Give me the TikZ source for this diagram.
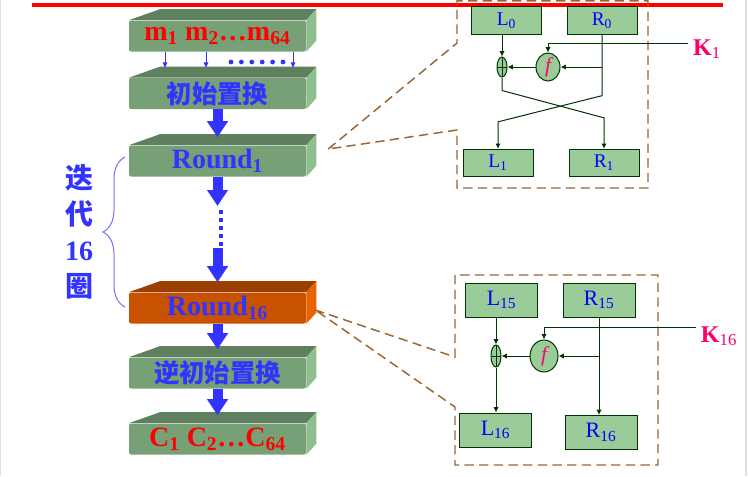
\documentclass[tikz,border=0pt]{standalone}
\usepackage{fontspec}
\setmainfont{Liberation Serif}
\newfontfamily\cjk{Noto Sans CJK SC}
\usepackage{tikz}
\usetikzlibrary{arrows.meta,decorations.pathreplacing,shapes.geometric}
\definecolor{slabfront}{HTML}{77A077}
\definecolor{slabtop}{HTML}{5E805E}
\definecolor{slabside}{HTML}{8FBF8F}
\definecolor{hotfront}{HTML}{C85200}
\definecolor{hottop}{HTML}{9B3F00}
\definecolor{hotside}{HTML}{E86200}
\definecolor{roundblue}{HTML}{3333FF}
\definecolor{boxgreen}{HTML}{99CC99}
\definecolor{wiregreen}{HTML}{003300}
\definecolor{callout}{HTML}{996633}
\definecolor{keypink}{HTML}{FF0066}
\newcommand{\slabsides}[3]{%
\fill[#2] (#1.north west) -- ++(31,-11) -- ([shift={(10,-11)}]#1.north east) -- (#1.north east) -- cycle;
\fill[#3] (#1.north east) -- ++(10,-11) -- ([shift={(10,-11)}]#1.south east) -- (#1.south east) -- cycle;}

\begin{document}
\begin{tikzpicture}[x=0.75pt,y=-0.75pt,
  slab/.style={fill=slabfront,minimum width=132.75pt,minimum height=23.25pt,inner sep=0pt,rounded corners=1.5pt},
  hot/.style={slab,fill=hotfront},
  redtext/.style={text=red,font=\bfseries\fontsize{21}{21}\selectfont},
  bluetext/.style={text=roundblue,font=\bfseries\fontsize{21}{21}\selectfont},
  cjktext/.style={text=roundblue,font=\cjk\bfseries\fontsize{19}{19}\selectfont},
  bigarrow/.style={roundblue,line width=7.5pt,-{Triangle[width=15pt,length=12pt]}},
  thinarrow/.style={roundblue,line width=0.75pt,-{Triangle[width=3.5pt,length=4pt]}},
  half/.style={fill=boxgreen,draw=wiregreen,line width=0.75pt,minimum width=52.5pt,minimum height=20.5pt,inner sep=0pt,text=blue,font=\fontsize{14.5}{15}\selectfont},
  half2/.style={half,minimum width=54pt,minimum height=25.5pt,font=\fontsize{16.5}{17}\selectfont},
  xorop/.style={ellipse,fill=boxgreen,draw=wiregreen,line width=0.75pt,minimum width=7.5pt,minimum height=15pt,inner sep=0pt,
    path picture={\draw[wiregreen,line width=0.6pt] (path picture bounding box.north) -- (path picture bounding box.south) (path picture bounding box.west) -- (path picture bounding box.east);}},
  fop/.style={ellipse,fill=boxgreen,draw=wiregreen,line width=0.75pt,minimum width=18pt,minimum height=21pt,inner sep=0pt,text=keypink,font=\itshape\fontsize{16}{16}\selectfont},
  link/.style={wiregreen,line width=0.75pt,-{Latex[length=4pt,width=4pt]}},
  keylabel/.style={text=keypink,font=\bfseries\fontsize{18}{18}\selectfont},
  calloutline/.style={callout,line width=1.1pt,dash pattern=on 7pt off 4pt}]
\useasboundingbox (0,0) rectangle (748,476);
\draw[gray!25] (0.5,0) -- (0.5,476);
\draw[gray!25,line width=1.5pt] (745.5,0) -- (745.5,476);
\draw[red,line width=3pt] (32,5) -- (723,5);

\node[slab] (msg) at (217.5,36) {};
\slabsides{msg}{slabtop}{slabside}
\node[redtext] at (msg) {m\textsubscript{1} m\textsubscript{2}\ldots m\textsubscript{64}};
\node[slab] (init) at (217.5,93.5) {};
\slabsides{init}{slabtop}{slabside}
\node[cjktext] at (init) {初始置换};
\node[slab] (round1) at (217.5,161) {};
\slabsides{round1}{slabtop}{slabside}
\node[bluetext] at (round1) {Round\textsubscript{1}};
\node[hot] (round16) at (217.5,308) {};
\slabsides{round16}{hottop}{hotside}
\node[bluetext] at (round16) {Round\textsubscript{16}};
\node[slab] (inverse) at (217.5,373) {};
\slabsides{inverse}{slabtop}{slabside}
\node[cjktext] at (inverse) {逆初始置换};
\node[slab] (cipher) at (217.5,439) {};
\slabsides{cipher}{slabtop}{slabside}
\node[redtext] at (cipher) {C\textsubscript{1} C\textsubscript{2}\ldots C\textsubscript{64}};

\foreach \dx in {-52.5,-11.5,75.5}
  \draw[thinarrow] ([xshift=\dx*0.75pt]msg.south) -- ([xshift=\dx*0.75pt,yshift=7.5pt]init.north);
\foreach \i in {0,...,5}
  \fill[roundblue] (231+\i*10.4,62) circle (2.4);

\coordinate (gapTop) at (217.5,206);
\coordinate (dotA) at (221,210);
\coordinate (dotB) at (221,250);
\coordinate (gapBot) at (217.5,248);
\draw[bigarrow] (init.south) -- ([yshift=6pt]round1.north);
\draw[bigarrow] (round1.south) -- (gapTop);
\draw[roundblue,line width=3pt,dash pattern=on 3pt off 3pt] (dotA) -- (dotB);
\draw[bigarrow] (gapBot) -- ([yshift=7.5pt]round16.north);
\draw[bigarrow] (round16.south) -- ([yshift=6pt]inverse.north);
\draw[bigarrow] (inverse.south) -- ([yshift=6pt]cipher.north);

\draw[roundblue!70,line width=0.75pt,decorate,decoration={brace,amplitude=16.5pt}] (125,307) -- (125,157);
\node[text=roundblue,font=\bfseries\fontsize{21}{27}\selectfont,align=center] (iter) at (79,232) {{\cjk 迭}\\{\cjk 代}\\16\\{\cjk 圈}};

\coordinate (tap1) at ([shift={(22,-12)}]round1.east);
\draw[calloutline] (tap1) -- (457,43) -- (457,0.8) -- (648,0.8) -- (648,188) -- (457,188) -- (457,130) -- cycle;
\coordinate (tap16) at ([shift={(9,2)}]round16.east);
\draw[calloutline] (tap16) -- (455,357) -- (455,275) -- (658,275) -- (658,465) -- (455,465) -- (455,407) -- cycle;

\node[half] (L0) at (506.5,20.5) {L\textsubscript{0}};
\node[half] (R0) at (602,20.5) {R\textsubscript{0}};
\node[xorop] (xor1) at (502,67) {};
\node[fop] (f1) at (548,67) {f};
\node[half] (L1) at (498,163) {L\textsubscript{1}};
\node[half] (R1) at (604,163) {R\textsubscript{1}};
\node[keylabel] (K1) at (707,49) {K\textsubscript{\mdseries 1}};
\draw[link] (xor1 |- L0.south) -- (xor1.north);
\draw[link] ([yshift=4.5pt]K1.west) -| (f1.north);
\draw[link] (R0.south |- f1.east) -- (f1.east);
\draw[link] (f1.west) -- (xor1.east);
\draw[link] (R0.south) -- ++(0,61) -- ([yshift=20.25pt]L1.north) -- (L1.north);
\draw[link] (xor1.south) -- ++(0,13) -- ([yshift=23.25pt]R1.north) -- (R1.north);

\node[half2] (L15) at (501.5,300) {L\textsubscript{15}};
\node[half2] (R15) at (599,300) {R\textsubscript{15}};
\node[xorop,minimum height=16.5pt] (xor2) at (496,356) {};
\node[fop,minimum width=21pt,minimum height=24pt] (f2) at (544,356) {f};
\node[half2] (L16) at (495.5,430) {L\textsubscript{16}};
\node[half2] (R16) at (601,432.5) {R\textsubscript{16}};
\node[keylabel] (K16) at (719,336) {K\textsubscript{\mdseries 16}};
\draw[link] (xor2 |- L15.south) -- (xor2.north);
\draw[link] ([yshift=6.75pt]K16.west) -| (f2.north);
\draw[link] (R15.south) -- (R15.south |- R16.north);
\draw[link] (R15.south |- f2.east) -- (f2.east);
\draw[link] (f2.west) -- (xor2.east);
\draw[link] (xor2.south) -- (xor2.south |- L16.north);
\end{tikzpicture}
\end{document}
